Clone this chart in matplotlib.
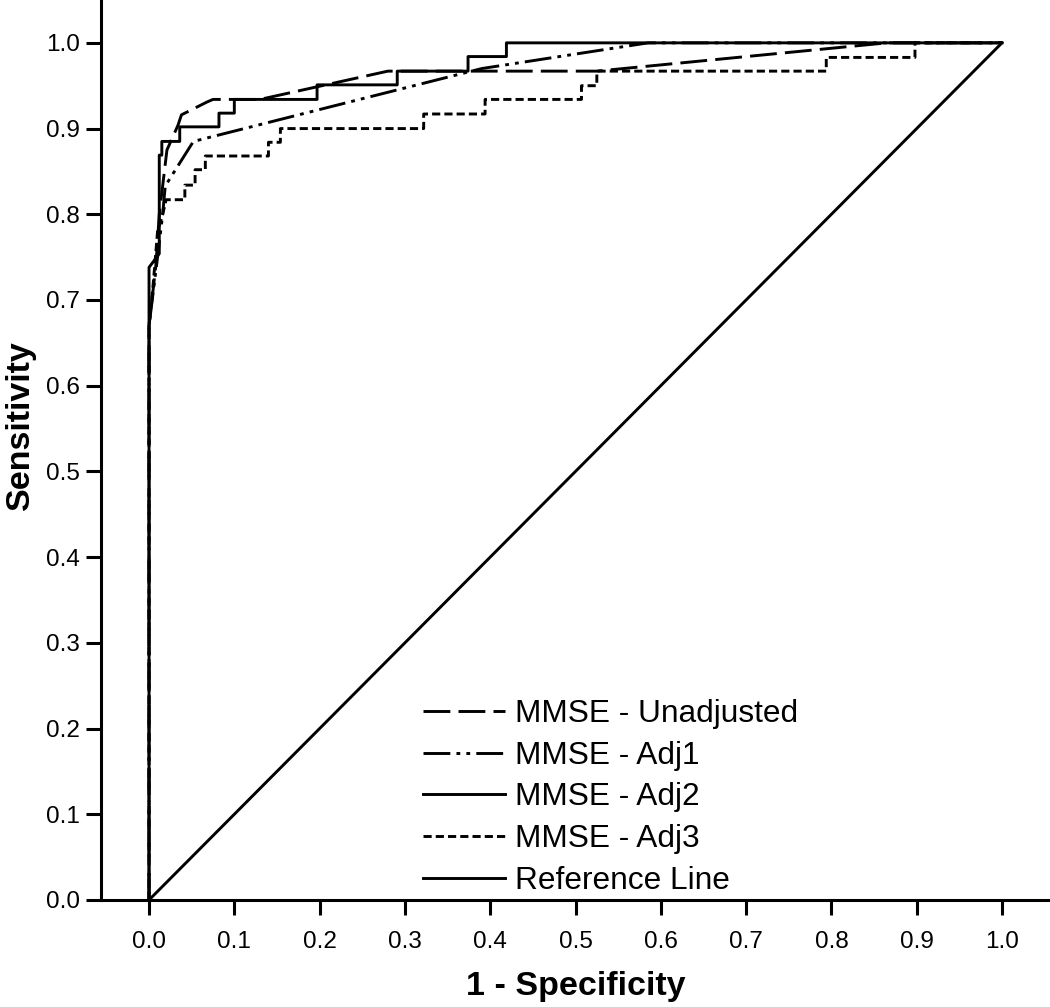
import numpy as np
import matplotlib
matplotlib.use("Agg")
import matplotlib.pyplot as plt

plt.rcParams['font.family'] = ['Liberation Sans', 'DejaVu Sans']

# ROC curves (1 - specificity, sensitivity)
unadj_fpr = [0, 0, 0.008, 0.012, 0.021, 0.034, 0.038, 0.068, 0.075, 0.13, 0.28, 0.525, 0.865, 1.0]
unadj_tpr = [0, 0.67, 0.74, 0.80, 0.875, 0.904, 0.916, 0.931, 0.934, 0.934, 0.967, 0.967, 1.0, 1.0]

adj1_fpr = [0, 0, 0.01, 0.016, 0.019, 0.052, 0.39, 0.585, 1.0]
adj1_tpr = [0, 0.67, 0.75, 0.80, 0.833, 0.885, 0.970, 1.0, 1.0]

adj2_fpr = [0, 0, 0.012, 0.012, 0.015, 0.015, 0.036, 0.036, 0.082, 0.082, 0.1, 0.1,
            0.197, 0.197, 0.291, 0.291, 0.374, 0.374, 0.419, 0.419, 1.0]
adj2_tpr = [0, 0.738, 0.754, 0.869, 0.869, 0.885, 0.885, 0.902, 0.902, 0.918, 0.918, 0.934,
            0.934, 0.951, 0.951, 0.967, 0.967, 0.984, 0.984, 1.0, 1.0]

adj3_fpr = [0, 0, 0.005, 0.01, 0.016, 0.02, 0.042, 0.042, 0.054, 0.054, 0.066, 0.066,
            0.140, 0.140, 0.154, 0.154, 0.322, 0.322, 0.394, 0.394, 0.507, 0.507,
            0.525, 0.525, 0.794, 0.794, 0.898, 0.898, 1.0]
adj3_tpr = [0, 0.67, 0.72, 0.78, 0.80, 0.817, 0.817, 0.834, 0.834, 0.852, 0.852, 0.868,
            0.868, 0.884, 0.884, 0.900, 0.900, 0.917, 0.917, 0.934, 0.934, 0.950,
            0.950, 0.967, 0.967, 0.983, 0.983, 1.0, 1.0]

ref_x = [0, 1]
ref_y = [0, 1]

labels = ['MMSE - Unadjusted', 'MMSE - Adj1', 'MMSE - Adj2', 'MMSE - Adj3', 'Reference Line']
ticks = np.round(np.arange(0, 1.01, 0.1), 1)

fig = plt.figure(figsize=(10.5, 10.07), dpi=100)
ax = fig.add_axes([0.0962, 0.1063, 0.9038, 0.8937])

lw = 2.1
ax.plot(unadj_fpr, unadj_tpr, color='black', lw=lw, dashes=(9.2, 2.8), label=labels[0])
ax.plot(adj1_fpr, adj1_tpr, color='black', lw=lw, dashes=(9.2, 2.1, 1.3, 2.1, 1.3, 2.1), label=labels[1])
ax.plot(adj2_fpr, adj2_tpr, color='black', lw=lw, label=labels[2])
ax.plot(adj3_fpr, adj3_tpr, color='black', lw=lw, dashes=(2.8, 1.4), label=labels[3])
ax.plot(ref_x, ref_y, color='black', lw=lw, label=labels[4])

ax.set_xlim(-0.0563, 1.0563)
ax.set_ylim(0, 1.050)
ax.set_xticks(ticks)
ax.set_yticks(ticks)
ax.set_xticklabels([f'{t:.1f}' for t in ticks])
ax.set_yticklabels([f'{t:.1f}' for t in ticks])

for s in ['top', 'right']:
    ax.spines[s].set_visible(False)
for s in ['left', 'bottom']:
    ax.spines[s].set_linewidth(2.2)
ax.tick_params(axis='x', direction='out', length=11, width=2.2, pad=11, labelsize=17.5)
ax.tick_params(axis='y', direction='out', length=11, width=2.2, pad=4, labelsize=17.5)

ax.set_xlabel('1 - Specificity', fontsize=24.5, fontweight='bold')
ax.xaxis.set_label_coords(0.5, -0.079)
ax.set_ylabel('Sensitivity', fontsize=24.5, fontweight='bold')
ax.yaxis.set_label_coords(-0.069, 0.528)

ax.legend(loc='upper left', bbox_to_anchor=(423 / 1050, 1 - 699 / 1007),
          bbox_transform=fig.transFigure, frameon=False, fontsize=22.8,
          handlelength=2.6, handletextpad=0.32, labelspacing=0.37,
          borderpad=0, borderaxespad=0)

fig.savefig('out.png', dpi=100)
